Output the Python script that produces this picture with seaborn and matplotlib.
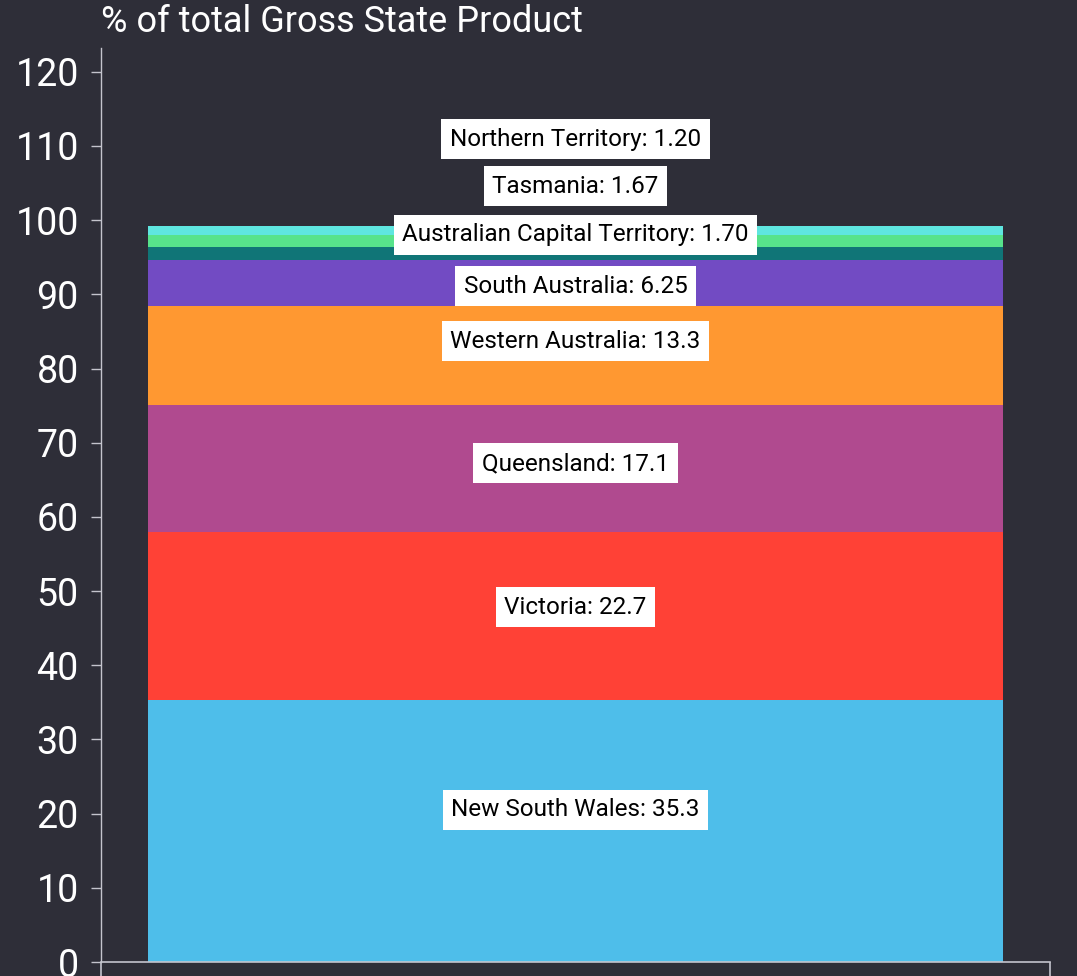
import numpy as np
import pandas as pd
import matplotlib
matplotlib.use("Agg")
import matplotlib.pyplot as plt
import seaborn as sns

# --- data (bottom to top of the stack) ---
states = ["New South Wales", "Victoria", "Queensland", "Western Australia",
          "South Australia", "Australian Capital Territory", "Tasmania",
          "Northern Territory"]
shares = [35.3, 22.7, 17.1, 13.3, 6.25, 1.70, 1.67, 1.20]
value_text = ["35.3", "22.7", "17.1", "13.3", "6.25", "1.70", "1.67", "1.20"]
colors = ["#4ebeea", "#ff4136", "#b04a8f", "#ff9831",
          "#724bc3", "#107577", "#57e38b", "#5fe6e0"]
# label box centres (y, data units), nudged apart so boxes do not overlap
label_y = [20.5, 47.8, 67.2, 83.7, 91.1, 98.0, 104.6, 110.9]

BG = "#2e2e38"
AXIS = "#c4c4cd"

sns.set_theme(style="white")
plt.rcParams["font.family"] = ["Roboto", "DejaVu Sans"]

fig = plt.figure(figsize=(10.77, 9.76), dpi=100, facecolor=BG)
ax = fig.add_axes([0.0938, 0.01434, 0.8812, 0.93646])
ax.set_facecolor(BG)

# stacked bar: draw cumulative totals from the top down so each layer overlays
cum = np.cumsum(shares)
for i in range(len(states) - 1, -1, -1):
    df = pd.DataFrame({"group": ["Australia"], "value": [cum[i]]})
    sns.barplot(data=df, x="group", y="value", color=colors[i],
                saturation=1, width=0.9, ax=ax, linewidth=0)

for name, txt, yy in zip(states, value_text, label_y):
    ax.text(0, yy, f"{name}: {txt}", ha="center", va="center",
            fontsize=17.5, color="black",
            bbox=dict(boxstyle="square,pad=0.35", facecolor="white",
                      edgecolor="none"))

ax.set_xlim(-0.5, 0.5)
ax.set_ylim(0, 123.2)
ax.set_yticks(np.arange(0, 121, 10))
ax.set_xticks([-0.5, 0.5])
ax.set_xticklabels(["", ""])
ax.set_xlabel("")
ax.set_ylabel("")
ax.tick_params(axis="y", colors=AXIS, labelcolor="white", labelsize=27,
               length=7, width=1, direction="out", left=True, pad=9)
ax.tick_params(axis="x", colors=AXIS, length=10, width=1.2,
               direction="out", bottom=True)
for side in ["top", "right"]:
    ax.spines[side].set_visible(False)
ax.spines["left"].set_color(AXIS)
ax.spines["bottom"].set_color(AXIS)
ax.spines["left"].set_linewidth(1)
ax.spines["bottom"].set_linewidth(1.2)
ax.grid(False)

fig.text(0.0938, 0.977, "% of total Gross State Product", ha="left",
         va="center", fontsize=26, color="white")

fig.savefig("out.png", dpi=100, facecolor=BG)
